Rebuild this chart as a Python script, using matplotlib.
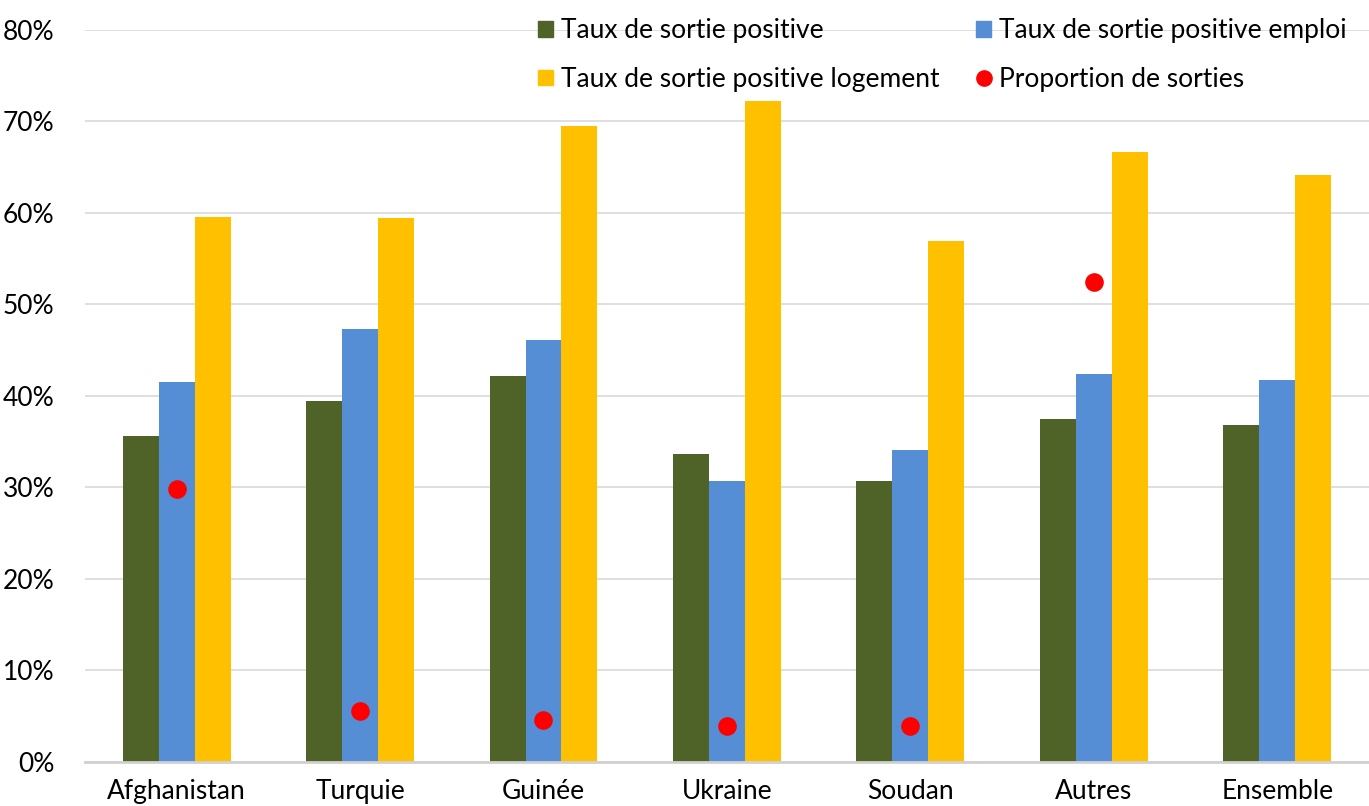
import matplotlib.pyplot as plt
import numpy as np
from matplotlib.patches import Patch
from matplotlib.lines import Line2D

plt.rcParams['font.family'] = ['Lato', 'DejaVu Sans']

pays = ['Afghanistan', 'Turquie', 'Guinée', 'Ukraine', 'Soudan', 'Autres', 'Ensemble']
sortie_pos = [35.6, 39.5, 42.2, 33.7, 30.7, 37.5, 36.8]
sortie_emploi = [41.5, 47.3, 46.1, 30.7, 34.1, 42.4, 41.7]
sortie_logement = [59.6, 59.5, 69.5, 72.2, 56.9, 66.7, 64.2]
proportion = [29.8, 5.6, 4.6, 3.9, 3.9, 52.5, np.nan]

c_green = '#4F6228'
c_blue = '#558ED5'
c_yellow = '#FFC000'
c_red = '#FF0000'

fig = plt.figure(figsize=(13.69, 8.06), dpi=100)
ax = fig.add_axes([0.062, 0.0546, 0.938, 0.9082])

x = np.arange(len(pays))
w = 0.196
ax.bar(x - w, sortie_pos, w, color=c_green, zorder=2)
ax.bar(x, sortie_emploi, w, color=c_blue, zorder=2)
ax.bar(x + w, sortie_logement, w, color=c_yellow, zorder=2)
ax.scatter(x, proportion, s=180, color=c_red, zorder=3, linewidths=0)

ax.set_xlim(-0.5, 6.5)
ax.set_ylim(0, 80)
ax.set_yticks(np.arange(0, 81, 10))
ax.set_yticklabels([f'{v}%' for v in range(0, 81, 10)])
ax.set_xticks(x)
ax.set_xticklabels(pays)
ax.yaxis.grid(True, color='#D9D9D9', linewidth=1.2, zorder=0)
ax.set_axisbelow(True)
for s in ['top', 'right', 'left']:
    ax.spines[s].set_visible(False)
ax.spines['bottom'].set_color('#D0D0D0')
ax.spines['bottom'].set_linewidth(2)
ax.tick_params(axis='both', length=0, labelsize=19, colors='black')
ax.tick_params(axis='x', pad=12)
ax.tick_params(axis='y', pad=22)

# ordre colonne par colonne pour obtenir la lecture ligne par ligne
handles = [
    Patch(color=c_green, label='Taux de sortie positive'),
    Patch(color=c_yellow, label='Taux de sortie positive logement'),
    Patch(color=c_blue, label='Taux de sortie positive emploi'),
    Line2D([], [], marker='o', color=c_red, linestyle='none', markersize=11,
           label='Proportion de sorties'),
]
fig.legend(handles=handles, ncol=2, loc='upper left', bbox_to_anchor=(0.376, 1.007),
           frameon=False, fontsize=19, handlelength=0.55, handleheight=0.55,
           handletextpad=0.3, columnspacing=1.4, labelspacing=0.9)

fig.savefig('out.png', dpi=100)
